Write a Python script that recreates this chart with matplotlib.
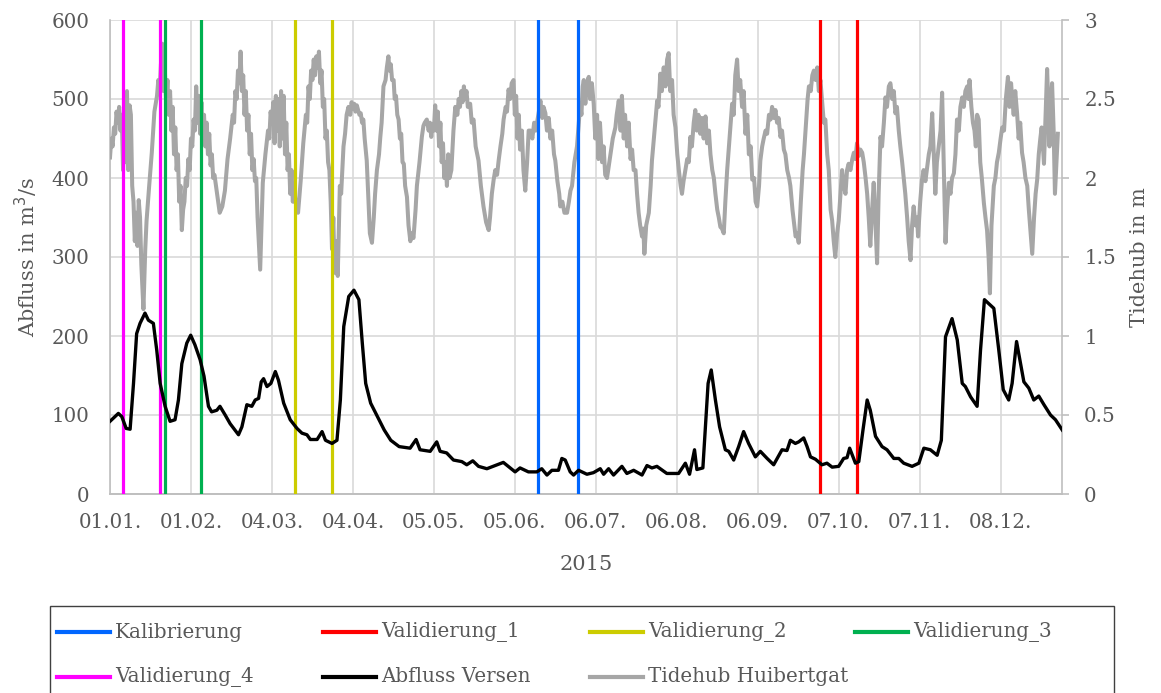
import numpy as np
import pandas as pd
import matplotlib
matplotlib.use("Agg")
import matplotlib.pyplot as plt
from matplotlib.lines import Line2D
from matplotlib.patches import Rectangle
import matplotlib.dates as mdates

# ---------------------------------------------------------------- data
year_start = pd.Timestamp("2015-01-01")

# Abfluss Versen [m3/s], day offset from 01.01.2015
flow_day = [0, 3.2, 4.5, 6.2, 7.7, 9, 10.2, 11.5, 13.4, 14.7, 16.6, 17.9, 19.2,
            21.1, 23, 24.9, 26.2, 27.5, 29.4, 30.9, 32.5, 34.5, 36, 37.7, 38.9,
            40.9, 42.1, 44.1, 46, 49.2, 50.5, 52.4, 54.3, 55.6, 56.9, 57.9, 58.8,
            60.1, 61.6, 63.3, 64.5, 66.5, 69, 71.6, 73.5, 75.4, 76.7, 79.3, 81.2,
            82.5, 85, 86.9, 88.2, 89.5, 91.4, 93.4, 95.3, 96.6, 97.9, 99.8, 102.4,
            105, 107.5, 110.7, 114.9, 117.2, 118.7, 122.6, 125.1, 126.4, 128.9,
            131.5, 134.7, 136.6, 138.9, 141.1, 144.3, 147.5, 150.6, 153.2, 155.1,
            157, 160.2, 163.4, 165.3, 167.3, 169.2, 171.7, 173, 174.3, 176.2,
            177.5, 179.4, 182.6, 185.1, 187.7, 189, 190.9, 192.8, 196, 197.9,
            200.5, 203.7, 205.6, 207.5, 209.4, 213.2, 217.7, 220.3, 221.9, 223.8,
            224.7, 227, 229, 230.2, 231.8, 233.4, 235.6, 236.9, 238.8, 240.7,
            242.6, 244.5, 247.1, 249, 251.6, 254.1, 257.3, 259.2, 260.5, 262.4,
            263.7, 265.6, 266.9, 268.2, 270.1, 272.6, 274.5, 276.5, 279, 280.9,
            282.2, 283.2, 285.4, 286.7, 288.3, 289.9, 291.1, 293.1, 295.6, 297.5,
            300.1, 302, 303.9, 307.1, 309.7, 311.6, 314.1, 316.7, 318.3, 319.9,
            322.4, 324.4, 326.3, 327.5, 329.5, 332, 333.3, 334.8, 337.1, 338.4,
            340.3, 342, 344.1, 345.4, 347.1, 348.6, 349.9, 351.8, 353.7, 355.6,
            357.6, 360.1, 362, 364.6]
flow_val = [92, 102, 98, 83, 82, 140, 203, 216, 229, 220, 216, 182, 140,
            111, 92, 94, 119, 165, 191, 201, 189, 170, 149, 111, 104,
            106, 111, 100, 89, 75, 85, 113, 111, 119, 121, 142, 146,
            136, 140, 155, 144, 115, 94, 83, 77, 75, 69, 69, 79,
            68, 64, 68, 119, 212, 250, 258, 246, 191, 140, 115, 98,
            81, 68, 60, 58, 69, 56, 54, 66, 54, 52,
            43, 41, 37, 42, 35, 32, 36, 40, 33, 28,
            33, 28, 28, 32, 24, 30, 30, 45, 43, 28,
            24, 30, 25, 27, 32, 25, 32, 24, 35, 26,
            30, 24, 36, 33, 35, 26, 26, 39, 25, 56,
            31, 33, 140, 157, 119, 85, 56, 54, 43, 60,
            79, 64, 47, 54, 45, 37, 56, 55, 68, 64,
            66, 71, 60, 47, 44, 37, 39, 34, 35, 45,
            46, 58, 39, 41, 81, 119, 106, 73, 60, 56,
            45, 45, 39, 35, 39, 58, 56, 49, 68, 199,
            222, 195, 140, 136, 123, 111, 182, 246, 239, 235,
            182, 132, 119, 140, 193, 166, 142, 134, 119, 124,
            113, 100, 94, 81]

# Tidehub Huibertgat [m], day offset from 01.01.2015
tide_day = [0, 0.5, 1, 1.5, 2, 2.5, 3, 3.5, 4, 4.5, 5, 5.5, 6, 6.5, 7, 7.5, 8, 8.5,
            9, 9.5, 10, 10.5, 11, 11.5, 12, 12.8, 13.5, 14, 15, 16, 17, 18, 18.5,
            19, 19.5, 20, 20.5, 21, 21.5, 22, 22.5, 23, 23.5, 24, 24.5, 25, 25.5,
            26, 26.5, 27, 27.5, 28, 28.5, 29, 29.5, 30, 30.5, 31, 31.5, 32, 32.5,
            33, 33.5, 34, 34.5, 35, 35.5, 36, 36.5, 37, 37.5, 38, 38.5, 39, 39.5,
            40, 41, 42, 43, 44, 45, 46, 47, 47.5, 48, 48.5, 49, 49.5, 50, 50.5,
            51, 51.5, 52, 52.5, 53, 53.5, 54, 54.5, 55, 55.5, 56, 56.5, 57.5,
            58.5, 59.5, 60.5, 61, 61.5, 62, 62.5, 63, 63.5, 64, 64.5, 65, 65.5,
            66, 66.5, 67, 67.5, 68, 68.5, 69, 69.5, 70, 70.5, 71, 72, 73, 74, 75,
            75.5, 76, 76.5, 77, 77.5, 78, 78.5, 79, 79.5, 80, 80.5, 81, 81.5, 82,
            82.5, 83, 83.5, 84, 84.5, 85, 85.5, 86, 86.5, 87.2, 88, 88.5, 89.4,
            90, 90.6, 91.3, 92, 92.5, 93, 93.5, 94, 94.5, 95, 95.5, 96, 96.5, 97,
            97.5, 98.3, 99, 99.5, 100.3, 101, 101.5, 102.2, 103, 103.5, 104,
            104.7, 105.5, 106, 106.6, 107, 107.5, 108, 108.6, 109, 109.5, 110,
            110.5, 111, 111.5, 112, 112.5, 113, 113.7, 114.3, 115, 115.5, 116.2,
            117, 117.5, 118.5, 119.4, 120, 120.5, 121.3, 122, 122.5, 123, 123.5,
            124, 124.5, 125, 125.5, 126, 126.5, 127, 127.5, 128, 128.5, 129,
            129.5, 130, 130.7, 131.5, 132.2, 133, 133.5, 134, 134.5, 135, 135.5,
            136, 136.5, 137, 137.9, 138.5, 139.2, 140, 141.1, 142, 143, 144, 145,
            145.5, 146.2, 146.9, 147.5, 148.2, 148.8, 149.5, 150.2, 150.7, 151.5,
            152, 152.6, 153.2, 153.8, 154.5, 155, 155.5, 156, 156.5, 157, 157.7,
            158.3, 159, 159.7, 160.3, 161, 161.7, 162.4, 163, 163.5, 164.2, 164.8,
            165.5, 166, 166.7, 167.3, 168, 168.6, 169.3, 170, 170.5, 171.3, 172,
            172.4, 173.2, 174, 175, 175.7, 176.3, 176.9, 177.8, 178.8, 179.5, 180,
            180.5, 181, 181.4, 182, 182.6, 183.3, 183.8, 184.5, 185.2, 185.8,
            186.5, 187, 187.6, 188.4, 189, 189.6, 190.3, 191, 191.6, 192.5, 193.5,
            194, 194.8, 195.5, 196, 196.7, 197.2, 198, 198.6, 199.3, 199.9, 200.5,
            201.2, 201.8, 202.4, 203, 203.7, 204.2, 204.6, 205.3, 206.3, 207,
            207.5, 208.5, 209.5, 210, 210.7, 211.3, 212, 212.7, 213.3, 213.9,
            214.5, 215.2, 215.8, 216.5, 217.2, 217.8, 218.5, 219, 219.6, 220.3,
            221, 221.6, 222.2, 222.8, 223.5, 224.1, 224.7, 225.3, 226, 226.6,
            227.3, 228, 228.6, 229.3, 229.9, 230.6, 231.2, 231.8, 232.5, 233.1,
            233.7, 234.3, 235, 235.6, 236.3, 237.2, 238.2, 238.8, 239.4, 240.1,
            240.7, 241.3, 242, 242.6, 243.3, 244, 244.6, 245.3, 245.9, 246.6,
            247.2, 247.8, 248.5, 249, 249.7, 250.3, 251, 251.6, 252.3, 252.9,
            253.5, 254.2, 254.8, 255.4, 256, 256.7, 257.3, 258, 258.6, 259.3, 260,
            260.5, 261.3, 262, 262.5, 263.1, 263.7, 264.5, 265.2, 265.7, 266.5,
            267.1, 267.6, 268.3, 268.9, 269.5, 270.2, 270.8, 271.4, 272, 272.7,
            273.3, 273.9, 274.6, 275.2, 275.9, 276.5, 277.1, 277.7, 278.4, 279,
            279.7, 280.3, 281, 281.6, 282.2, 282.8, 283.5, 284.2, 284.8, 285.4,
            286, 286.7, 287.3, 288, 288.6, 289.3, 289.9, 290.5, 291.1, 291.8,
            292.4, 293, 293.7, 294.3, 295, 295.6, 296.3, 296.9, 297.5, 298.2,
            298.8, 299.5, 300.1, 300.7, 301.3, 302, 302.6, 303.3, 303.9, 304.5,
            305.2, 305.8, 306.5, 307.1, 307.7, 308.4, 309, 309.4, 310.2, 310.9,
            311.5, 312.2, 312.9, 313.5, 314.1, 314.8, 315.4, 316, 316.6, 317.3,
            318, 318.6, 319.2, 319.9, 320.5, 321.2, 321.8, 322.4, 323.1, 323.7,
            324.3, 325, 325.6, 326.3, 326.9, 327.5, 328.2, 328.7, 329.1, 329.8,
            330.4, 331, 331.5, 332, 332.6, 333.2, 333.8, 334.6, 335.2, 335.8,
            336.4, 336.9, 337.5, 338.4, 339, 339.6, 340.3, 341, 341.6, 342.3, 343,
            343.8, 344.4, 345, 345.4, 346, 346.6, 347.3, 347.9, 348.5, 349.2,
            349.8, 350.5, 351.2, 351.8, 352.5, 353.1, 353.8, 354.4, 355, 355.6,
            356.2, 356.7, 357.2, 357.6, 358.2, 358.8, 359.3, 359.7, 360.2, 360.7,
            361.3, 361.8, 362.4, 362.9]
tide_val = [2.13, 2.25, 2.20, 2.32, 2.28, 2.42, 2.35, 2.45, 2.30, 2.40, 2.05, 2.38,
            2.10, 2.55, 2.05, 2.46, 2.40, 1.95, 1.85, 1.60, 1.78, 1.57, 1.86, 1.75,
            1.45, 1.17, 1.55, 1.73, 1.95, 2.16, 2.42, 2.52, 2.62, 2.55, 2.72, 2.85,
            2.55, 2.68, 2.48, 2.62, 2.40, 2.55, 2.30, 2.45, 2.15, 2.32, 2.05, 2.15,
            1.85, 1.95, 1.67, 1.80, 1.85, 2.00, 1.95, 2.12, 2.05, 2.25, 2.20, 2.37,
            2.30, 2.58, 2.35, 2.52, 2.28, 2.48, 2.25, 2.40, 2.20, 2.35, 2.15, 2.28,
            2.08, 2.15, 2.00, 2.02, 1.90, 1.78, 1.82, 1.92, 2.12, 2.25, 2.40, 2.35,
            2.55, 2.50, 2.68, 2.60, 2.80, 2.55, 2.65, 2.40, 2.55, 2.30, 2.40, 2.15,
            2.28, 2.05, 2.12, 1.98, 2.00, 1.75, 1.42, 1.97, 2.15, 2.30, 2.25, 2.42,
            2.35, 2.48, 2.22, 2.52, 2.30, 2.50, 2.20, 2.55, 2.25, 2.52, 2.15, 2.35,
            2.05, 2.15, 1.90, 2.05, 1.85, 1.95, 1.85, 1.78, 1.98, 2.22, 2.40, 2.35,
            2.58, 2.50, 2.68, 2.62, 2.75, 2.65, 2.77, 2.70, 2.80, 2.60, 2.68, 2.45,
            2.50, 2.25, 2.30, 2.10, 2.05, 1.85, 1.55, 1.75, 1.40, 1.60, 1.38, 1.95,
            1.90, 2.20, 2.28, 2.40, 2.45, 2.40, 2.48, 2.44, 2.47, 2.42, 2.46, 2.43,
            2.40, 2.41, 2.35, 2.37, 2.25, 2.11, 1.85, 1.65, 1.59, 1.75, 1.90, 2.05,
            2.15, 2.26, 2.35, 2.58, 2.62, 2.70, 2.77, 2.68, 2.72, 2.62, 2.62, 2.50,
            2.52, 2.40, 2.37, 2.25, 2.28, 2.10, 2.09, 1.95, 1.88, 1.70, 1.60, 1.65,
            1.62, 1.80, 1.95, 2.10, 2.26, 2.33, 2.35, 2.37, 2.30, 2.35, 2.26, 2.34,
            2.30, 2.46, 2.30, 2.42, 2.20, 2.35, 2.10, 2.22, 2.00, 2.10, 1.95, 2.15,
            2.00, 2.05, 2.30, 2.45, 2.40, 2.50, 2.45, 2.55, 2.48, 2.58, 2.50, 2.55,
            2.45, 2.47, 2.35, 2.37, 2.20, 2.11, 1.95, 1.82, 1.72, 1.67, 1.75, 1.90,
            1.99, 2.05, 2.02, 2.11, 2.20, 2.28, 2.37, 2.45, 2.42, 2.56, 2.50, 2.60,
            2.62, 2.40, 2.52, 2.25, 2.40, 2.18, 2.30, 2.05, 1.92, 2.10, 2.30, 2.30,
            2.25, 2.35, 2.30, 2.35, 2.42, 2.49, 2.38, 2.45, 2.41, 2.30, 2.38, 2.25,
            2.30, 2.15, 2.11, 1.98, 1.90, 1.82, 1.85, 1.78, 1.78, 1.85, 1.92, 1.95,
            2.10, 2.20, 2.35, 2.47, 2.40, 2.58, 2.62, 2.47, 2.60, 2.64, 2.50, 2.60,
            2.47, 2.25, 2.40, 2.12, 2.35, 2.10, 2.20, 2.02, 2.00, 2.08, 2.15, 2.25,
            2.32, 2.40, 2.49, 2.30, 2.52, 2.25, 2.40, 2.20, 2.35, 2.12, 2.18, 2.05,
            2.05, 1.90, 1.78, 1.70, 1.63, 1.68, 1.52, 1.70, 1.78, 1.95, 2.11, 2.30,
            2.49, 2.45, 2.66, 2.55, 2.70, 2.58, 2.75, 2.79, 2.55, 2.62, 2.40, 2.32,
            2.15, 2.05, 1.95, 1.90, 1.98, 2.05, 2.12, 2.10, 2.26, 2.20, 2.35, 2.43,
            2.30, 2.40, 2.28, 2.38, 2.25, 2.39, 2.22, 2.30, 2.15, 2.05, 2.00, 1.90,
            1.80, 1.75, 1.69, 1.68, 1.65, 1.85, 2.05, 2.25, 2.47, 2.40, 2.65, 2.75,
            2.55, 2.62, 2.45, 2.55, 2.28, 2.40, 2.15, 2.20, 1.99, 2.00, 1.85, 1.82,
            1.95, 2.11, 2.20, 2.25, 2.30, 2.28, 2.40, 2.37, 2.45, 2.38, 2.43, 2.35,
            2.38, 2.26, 2.30, 2.18, 2.15, 2.05, 2.00, 1.95, 1.80, 1.70, 1.63, 1.65,
            1.59, 1.85, 2.05, 2.15, 2.35, 2.50, 2.58, 2.55, 2.65, 2.68, 2.62, 2.70,
            2.55, 2.62, 2.47, 2.35, 2.37, 2.15, 2.05, 1.80, 1.73, 1.60, 1.50, 1.65,
            1.73, 1.90, 2.05, 1.95, 1.90, 2.05, 2.09, 2.05, 2.12, 2.16, 2.12, 2.22,
            2.14, 2.18, 2.16, 2.10, 2.00, 1.90, 1.75, 1.57, 1.80, 1.97, 1.75, 1.46,
            1.90, 2.26, 2.20, 2.35, 2.51, 2.45, 2.58, 2.60, 2.50, 2.55, 2.41, 2.45,
            2.30, 2.20, 2.10, 2.00, 1.90, 1.75, 1.60, 1.48, 1.70, 1.82, 1.70, 1.75,
            1.63, 1.85, 1.99, 2.05, 1.98, 2.07, 2.15, 2.20, 2.41, 2.15, 1.90, 2.10,
            2.20, 2.30, 2.54, 2.10, 1.59, 1.80, 1.97, 1.90, 2.00, 2.03, 2.15, 2.37,
            2.30, 2.45, 2.51, 2.45, 2.55, 2.58, 2.50, 2.62, 2.45, 2.35, 2.30, 2.20,
            2.40, 2.37, 2.10, 2.00, 1.84, 1.75, 1.67, 1.50, 1.27, 1.70, 1.95, 2.00,
            2.10, 2.16, 2.25, 2.32, 2.30, 2.50, 2.64, 2.45, 2.60, 2.51, 2.40, 2.55,
            2.41, 2.25, 2.35, 2.16, 2.10, 2.00, 1.95, 1.80, 1.65, 1.52, 1.75, 1.90,
            1.99, 2.15, 2.25, 2.32, 2.20, 2.09, 2.40, 2.69, 2.45, 2.20, 2.45, 2.60,
            2.30, 1.90, 2.10, 2.28]

# measurement windows (start, end)
windows = {
    "Kalibrierung": ("2015-06-14", "2015-06-29"),
    "Validierung_1": ("2015-09-30", "2015-10-14"),
    "Validierung_2": ("2015-03-13", "2015-03-27"),
    "Validierung_3": ("2015-01-22", "2015-02-05"),
    "Validierung_4": ("2015-01-06", "2015-01-20"),
}
window_colors = {
    "Kalibrierung": "#0066FF",
    "Validierung_1": "#FF0000",
    "Validierung_2": "#CCCC00",
    "Validierung_3": "#00B050",
    "Validierung_4": "#FF00FF",
}

flow_dates = year_start + pd.to_timedelta(flow_day, unit="D")
tide_dates = year_start + pd.to_timedelta(tide_day, unit="D")
tick_dates = pd.date_range("2015-01-01", periods=12, freq="31D")

# ---------------------------------------------------------------- plot
W, H = 1161, 693
plt.rcParams["font.family"] = ["DejaVu Serif"]
txt_col = "#595959"
fs = 14.3

fig = plt.figure(figsize=(W / 100, H / 100), dpi=100)
ax = fig.add_axes([110 / W, 1 - 494 / H, (1062 - 110) / W, (494 - 20) / H])
ax2 = ax.twinx()

# grid lives on the primary axis (drawn first, below everything)
ax.grid(True, color="#D9D9D9", lw=1.2)
ax.set_axisbelow(True)

ax2.plot(tide_dates, tide_val, color="#A6A6A6", lw=2.9, zorder=2)
for name, (d0, d1) in windows.items():
    for d in (d0, d1):
        ax2.axvline(pd.Timestamp(d), color=window_colors[name], lw=2.3,
                    zorder=3)
ax2.plot(flow_dates, flow_val, color="black", lw=2.4, zorder=4,
         transform=ax.transData)

ax.set_ylim(0, 600)
ax.set_yticks(range(0, 601, 100))
ax2.set_ylim(0, 3)
ax2.set_yticks([0, 0.5, 1, 1.5, 2, 2.5, 3])
ax2.set_yticklabels(["0", "0.5", "1", "1.5", "2", "2.5", "3"])
ax.set_xlim(year_start, year_start + pd.Timedelta(days=364.5))
ax2.set_xlim(year_start, year_start + pd.Timedelta(days=364.5))
ax.set_xticks(tick_dates)
ax.xaxis.set_major_formatter(mdates.DateFormatter("%d.%m."))

for a in (ax, ax2):
    a.spines["top"].set_visible(False)
    for s in ("left", "right", "bottom"):
        a.spines[s].set_color("#BFBFBF")
        a.spines[s].set_linewidth(1.2)
ax.spines["right"].set_visible(False)
ax2.spines["left"].set_visible(False)

ax.tick_params(axis="y", length=0, pad=15, labelsize=fs, labelcolor=txt_col)
ax.tick_params(axis="x", length=0, pad=14, labelsize=fs, labelcolor=txt_col)
ax2.tick_params(axis="y", length=5, width=1.2, color="#BFBFBF", pad=11,
                labelsize=fs, labelcolor=txt_col)

ax.set_ylabel("Abfluss in m$^3$/s", fontsize=15, color=txt_col, labelpad=8)
ax2.set_ylabel("Tidehub in m", fontsize=15, color=txt_col, rotation=90,
               labelpad=10)
ax.set_xlabel("2015", fontsize=15, color=txt_col, labelpad=16)

# legend (Excel-style, evenly spaced columns, box cut off at the bottom)
def fx(x):
    return x / W


def fy(y):
    return 1 - y / H


fig.add_artist(Rectangle((fx(49.5), fy(760)), fx(1114) - fx(49.5),
                         fy(606) - fy(760), transform=fig.transFigure,
                         fill=False, edgecolor="#404040", lw=1.0))
legend_items = [("Kalibrierung", "#0066FF"), ("Validierung_1", "#FF0000"),
                ("Validierung_2", "#CCCC00"), ("Validierung_3", "#00B050"),
                ("Validierung_4", "#FF00FF"), ("Abfluss Versen", "black"),
                ("Tidehub Huibertgat", "#A6A6A6")]
col_x = [57, 323, 590, 855]
row_y = [632, 677]
for i, (label, col) in enumerate(legend_items):
    x0 = col_x[i % 4]
    y0 = row_y[i // 4]
    fig.add_artist(Line2D([fx(x0), fx(x0 + 53)], [fy(y0), fy(y0)],
                          transform=fig.transFigure, color=col, lw=3))
    fig.text(fx(x0 + 58), fy(y0), label, fontsize=fs, color=txt_col,
             va="center", ha="left")

fig.savefig("out.png", dpi=100)
